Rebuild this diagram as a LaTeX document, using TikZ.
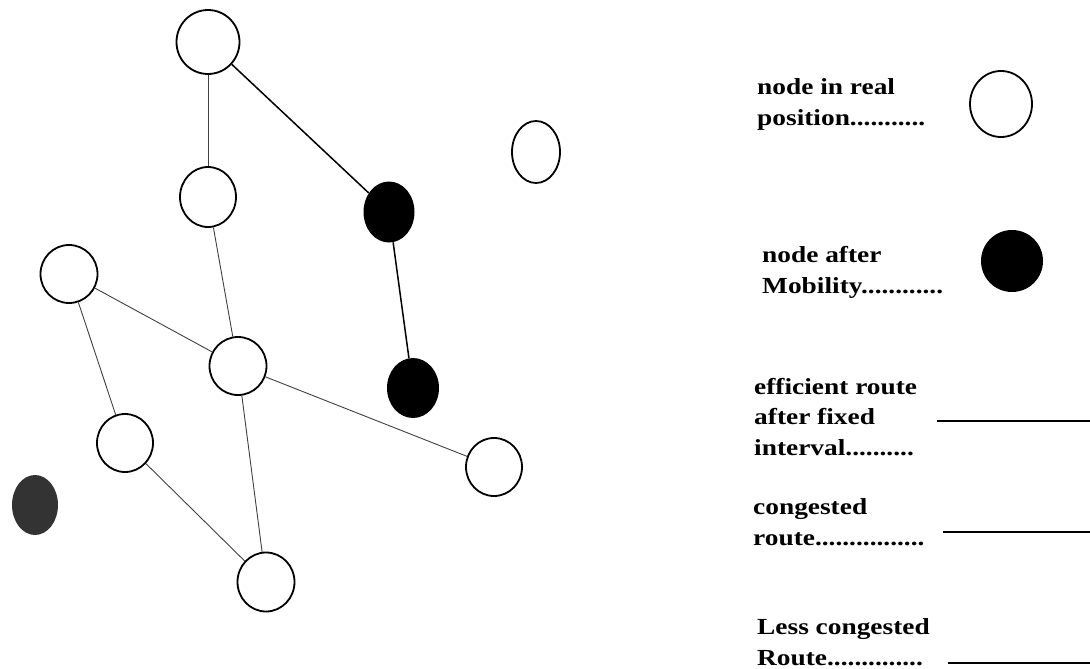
\documentclass[tikz,border=0pt]{standalone}
\usepackage{fontspec}
\setmainfont[FakeStretch=1.19]{Liberation Serif}
\usetikzlibrary{shapes.geometric}

\tikzset{
  realnode/.style={draw, ellipse, line width=1.8pt, inner sep=0pt},
  movednode/.style={ellipse, fill=black, inner sep=0pt},
  link/.style={draw=black!75, line width=0.9pt},
  mainlink/.style={draw=black, line width=1.5pt},
  route/.style={draw=black, line width=1.8pt},
  legendtext/.style={anchor=base west, align=left, inner sep=0pt, font=\bfseries\fontsize{23}{30.5}\selectfont}
}

\begin{document}
\begin{tikzpicture}[x=1pt,y=-1pt]
\useasboundingbox (0,0) rectangle (1090,669);

% nodes of the network
\node [realnode, minimum width=63pt, minimum height=64pt] (top) at (208,42) {};
\node [realnode, minimum width=56pt, minimum height=60pt] (upper) at (208,197) {};
\node [movednode, minimum width=51pt, minimum height=61pt] (moveda) at (389,212) {};
\node [realnode, minimum width=48pt, minimum height=62pt] (lone) at (536,152) {};
\node [realnode, minimum width=57pt, minimum height=58pt] (left) at (69,274) {};
\node [realnode, minimum width=57pt, minimum height=58pt] (hub) at (238,366) {};
\node [movednode, minimum width=52pt, minimum height=60pt] (movedb) at (413,388) {};
\node [realnode, minimum width=56pt, minimum height=58pt] (lower) at (125,443) {};
\node [realnode, minimum width=56pt, minimum height=58pt] (right) at (494,467) {};
\node [realnode, minimum width=57pt, minimum height=59pt] (bottom) at (266,582) {};
\node [movednode, fill=black!80, minimum width=46pt, minimum height=60pt] (faded) at (35,505) {};

% links
\draw [link] (top) -- (upper);
\draw [mainlink] (top) -- (moveda);
\draw [mainlink] (moveda) -- (movedb);
\draw [link] (upper) -- (hub);
\draw [link] (left) -- (hub);
\draw [link] (left) -- (lower);
\draw [link] (hub) -- (right);
\draw [link] (hub) -- (bottom);
\draw [link] (lower) -- (bottom);

% legend (text placed at the baseline of its last line)
\node [legendtext] (realtext) at (757,125) {node in real\\position...........};
\node [realnode, minimum width=62pt, minimum height=66pt] (realkey) at (1001,104) {};

\node [legendtext] (movedtext) at (762,293) {node after\\Mobility............};
\node [movednode, minimum width=62pt, minimum height=62pt] (movedkey) at (1012,261) {};

\node [legendtext] (efftext) at (754,455) {efficient route\\after fixed\\interval..........};
\coordinate (effa) at (937,421);
\coordinate (effb) at (1090,421);
\draw [route] (effa) -- (effb);

\node [legendtext] (congtext) at (753,545) {congested\\route................};
\coordinate (conga) at (943,532);
\coordinate (congb) at (1090,532);
\draw [route] (conga) -- (congb);

\node [legendtext] (lesstext) at (757,665) {Less congested\\Route..............};
\coordinate (lessa) at (948,663);
\coordinate (lessb) at (1090,663);
\draw [route, line width=1.4pt] (lessa) -- (lessb);

\end{tikzpicture}
\end{document}
